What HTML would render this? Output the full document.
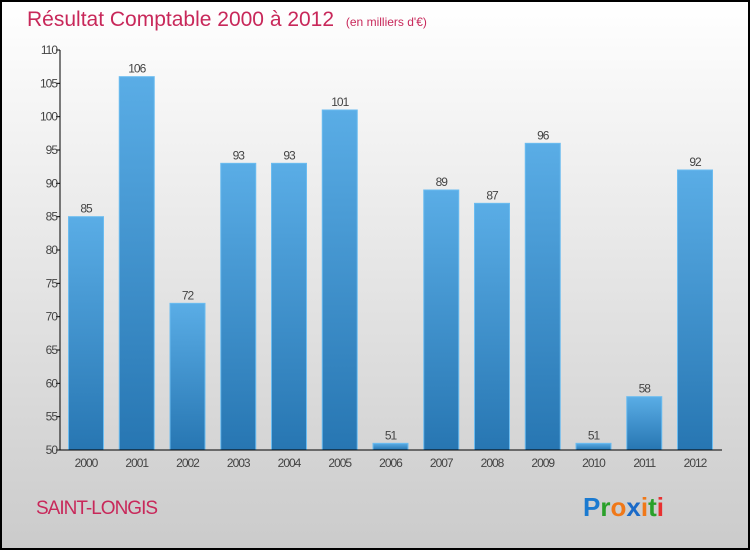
<!DOCTYPE html>
<html><head><meta charset="utf-8"><style>
html,body{margin:0;padding:0;width:750px;height:550px;overflow:hidden;font-family:"Liberation Sans",sans-serif;}
</style></head><body>
<svg id="chart" width="750" height="550" xmlns="http://www.w3.org/2000/svg">
<defs>
<linearGradient id="bg" x1="0" y1="0" x2="0" y2="1"><stop offset="0" stop-color="#ffffff"/><stop offset="1" stop-color="#cbcbcb"/></linearGradient>
<linearGradient id="bar" x1="0" y1="0" x2="0" y2="1"><stop offset="0" stop-color="#5aade6"/><stop offset="1" stop-color="#2776b2"/></linearGradient>
</defs>
<rect x="1" y="1" width="748" height="548" fill="url(#bg)" stroke="#000" stroke-width="2"/>
<text x="27" y="26" font-size="21" fill="#c8285a">Résultat Comptable 2000 à 2012 <tspan font-size="12" dx="6">(en milliers d'€)</tspan></text>
<g id="plot"></g>
<text x="36" y="514" font-size="19" fill="#c8285a" letter-spacing="-1">SAINT-LONGIS</text>
<g font-size="26" font-weight="bold" font-family="'Liberation Sans',sans-serif">
<text x="583" y="516"><tspan fill="#1a7ad0">P</tspan><tspan fill="#2aa02a">r</tspan><tspan fill="#f07818">o</tspan><tspan fill="#1a6ac8">x</tspan><tspan fill="#f07818">i</tspan><tspan fill="#2aa02a">t</tspan><tspan fill="#e83030">i</tspan></text>
</g>
</svg>
<script>
const categories=["2000","2001","2002","2003","2004","2005","2006","2007","2008","2009","2010","2011","2012"];
const values=[85,106,72,93,93,101,51,89,87,96,51,58,92];
const yTicks=[50,55,60,65,70,75,80,85,90,95,100,105,110];
const NS="http://www.w3.org/2000/svg";
const plotG=document.getElementById('plot');
const yMin=50,yMax=110,plotTop=50,plotBottom=450,plotLeft=60,plotRight=722;
const yScale=v=>plotBottom-(v-yMin)/(yMax-yMin)*(plotBottom-plotTop);
const step=50.75,x0=86;
const xc=i=>x0+i*step;
function mk(t,a){const e=document.createElementNS(NS,t);for(const k in a)e.setAttribute(k,a[k]);plotG.appendChild(e);return e;}
yTicks.forEach(v=>{
 const l=mk('line',{x1:plotLeft-4,x2:plotLeft,y1:yScale(v),y2:yScale(v),stroke:'#000'});
 
 
 const t=mk('text',{x:plotLeft-3,y:yScale(v)+4,'text-anchor':'end','font-size':12,fill:'#444','letter-spacing':'-1'});
 t.textContent=v;
 
 
});
categories.forEach((c,i)=>{
 const v=values[i];
 const r=mk('rect',{x:xc(i)-17.5,y:yScale(v),width:35,height:plotBottom-yScale(v),fill:'url(#bar)',stroke:'#6bbcf0','stroke-width':1});
 
 
 const vl=mk('text',{x:xc(i),y:yScale(v)-4,'text-anchor':'middle','font-size':12,fill:'#444','letter-spacing':'-1'});
 vl.textContent=v;
 
 
 const xl=mk('text',{x:xc(i),y:467,'text-anchor':'middle','font-size':12,fill:'#444','letter-spacing':'-1'});
 xl.textContent=c;
 
 
});
const ya=mk('line',{x1:plotLeft,x2:plotLeft,y1:plotTop,y2:plotBottom,stroke:'#000'});


const xa=mk('line',{x1:plotLeft,x2:plotRight,y1:plotBottom,y2:plotBottom,stroke:'#000'});


</script>
</body></html>
